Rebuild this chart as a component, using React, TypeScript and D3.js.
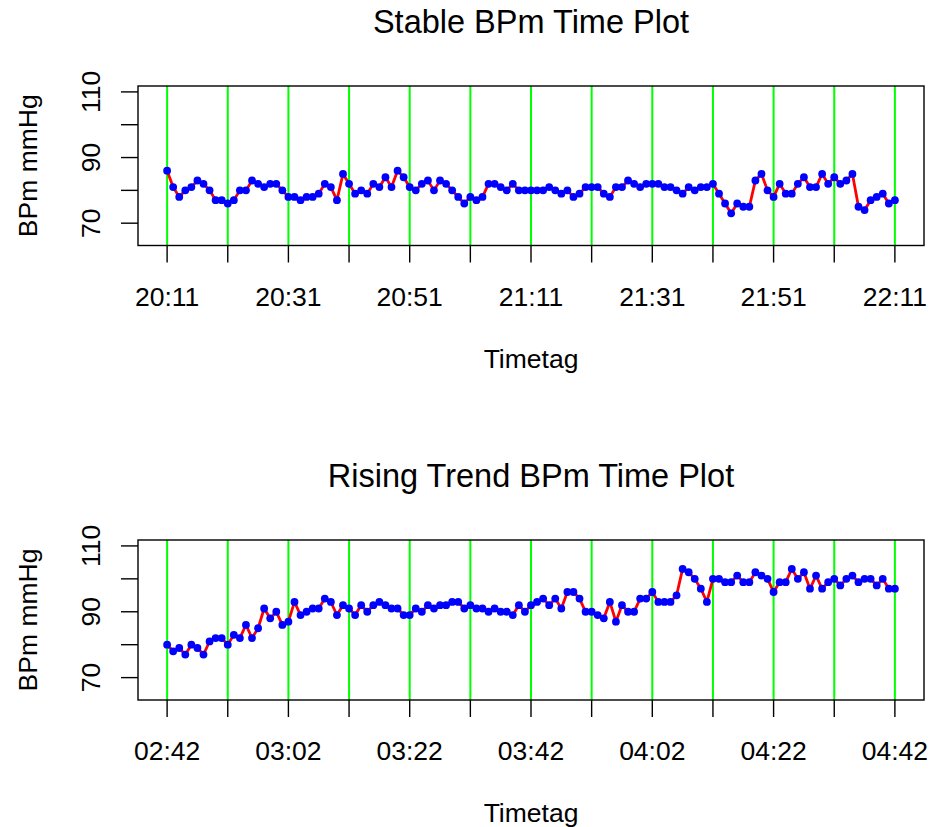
import React from "react";
import * as d3 from "d3";

// Blood pressure readings, one per minute over two hours
const stableStart = "20:11";
const stableValues = [
  86, 81, 78, 80, 81, 83, 82, 80, 77, 77,
  76, 77, 80, 80, 83, 82, 81, 82, 82, 80,
  78, 78, 77, 78, 78, 79, 82, 81, 77, 85,
  82, 79, 80, 79, 82, 81, 84, 81, 86, 84,
  81, 80, 82, 83, 80, 83, 82, 80, 78, 76,
  78, 77, 78, 82, 82, 81, 80, 82, 80, 80,
  80, 80, 80, 81, 80, 79, 80, 78, 79, 81,
  81, 81, 79, 78, 81, 81, 83, 82, 81, 82,
  82, 82, 81, 81, 80, 79, 81, 80, 81, 81,
  82, 79, 76, 73, 76, 75, 75, 83, 85, 80,
  78, 82, 79, 79, 82, 84, 81, 81, 85, 82,
  84, 82, 83, 85, 75, 74, 77, 78, 79, 76, 77,
];

const risingStart = "02:42";
const risingValues = [
  80, 78, 79, 77, 80, 79, 77, 81, 82, 82,
  80, 83, 82, 86, 82, 85, 91, 88, 90, 86,
  87, 93, 89, 90, 91, 91, 94, 93, 89, 92,
  91, 89, 92, 90, 92, 93, 92, 91, 91, 89,
  89, 91, 90, 92, 91, 92, 92, 93, 93, 91,
  92, 91, 91, 90, 91, 90, 90, 89, 92, 90,
  92, 93, 94, 92, 94, 91, 96, 96, 94, 90,
  90, 89, 88, 93, 87, 92, 90, 90, 94, 94,
  96, 93, 93, 93, 95, 103, 102, 100, 97, 93,
  100, 100, 99, 99, 101, 99, 99, 102, 101, 100,
  96, 99, 99, 103, 100, 102, 97, 101, 97, 99,
  100, 98, 100, 101, 99, 100, 100, 98, 100, 97, 97,
];

const yTicks = [70, 80, 90, 100, 110];
const yLabelTicks = [70, 90, 110];
const yLimits = [65, 110];
const gridStepMinutes = 10;
const labelStepMinutes = 20;

const FONT = "'Liberation Sans', Arial, Helvetica, sans-serif";

function parseClock(s: string): Date {
  const [h, m] = s.split(":").map(Number);
  return new Date(2020, 0, 1, h, m, 0);
}

type PanelProps = {
  title: string;
  start: string;
  values: number[];
  top: number;
  bottom: number;
};

function Panel({ title, start, values, top, bottom }: PanelProps) {
  const left = 138;
  const right = 924;
  const t0 = parseClock(start);
  const times = values.map((_, i) => d3.timeMinute.offset(t0, i));
  const t1 = times[times.length - 1];
  const span = (t1.getTime() - t0.getTime()) * 0.04;
  const x = d3
    .scaleTime()
    .domain([new Date(t0.getTime() - span), new Date(t1.getTime() + span)])
    .range([left, right]);
  const yPad = (yLimits[1] - yLimits[0]) * 0.04;
  const y = d3
    .scaleLinear()
    .domain([yLimits[0] - yPad, yLimits[1] + yPad])
    .range([bottom, top]);

  // vertical reference lines and ticks every ten minutes
  const gridTimes = d3
    .range(0, values.length, gridStepMinutes)
    .map((m) => d3.timeMinute.offset(t0, m));
  const fmt = d3.timeFormat("%H:%M");
  const line = d3
    .line<number>()
    .x((_, i) => x(times[i]))
    .y((d) => y(d));
  const cx = (left + right) / 2;
  const cy = (top + bottom) / 2;

  return (
    <g fontFamily={FONT} fill="#000">
      <text x={cx} y={top - 53} fontSize={32.5} textAnchor="middle">
        {title}
      </text>
      {gridTimes.map((t, i) => (
        <line
          key={"g" + i}
          x1={x(t)}
          x2={x(t)}
          y1={top}
          y2={bottom}
          stroke="#00ff00"
          strokeWidth={2}
        />
      ))}
      <path d={line(values) ?? ""} fill="none" stroke="#ff0000" strokeWidth={2.8} />
      {values.map((v, i) => (
        <circle key={"p" + i} cx={x(times[i])} cy={y(v)} r={3.9} fill="#0000ff" />
      ))}
      <rect
        x={left}
        y={top}
        width={right - left}
        height={bottom - top}
        fill="none"
        stroke="#000"
        strokeWidth={1.4}
      />
      {/* x axis */}
      {gridTimes.map((t, i) => (
        <g key={"xt" + i}>
          <line x1={x(t)} x2={x(t)} y1={bottom} y2={bottom + 17} stroke="#000" strokeWidth={1.4} />
          {(i * gridStepMinutes) % labelStepMinutes === 0 && (
            <text x={x(t)} y={bottom + 60} fontSize={26.5} textAnchor="middle">
              {fmt(t)}
            </text>
          )}
        </g>
      ))}
      <text x={cx} y={bottom + 122} fontSize={26.5} textAnchor="middle">
        Timetag
      </text>
      {/* y axis */}
      {yTicks.map((v) => (
        <line key={"yt" + v} x1={left - 17} x2={left} y1={y(v)} y2={y(v)} stroke="#000" strokeWidth={1.4} />
      ))}
      {yLabelTicks.map((v) => (
        <text
          key={"yl" + v}
          transform={`translate(${left - 38},${y(v)}) rotate(-90)`}
          fontSize={26.5}
          textAnchor="middle"
        >
          {v}
        </text>
      ))}
      <text transform={`translate(37,${cy}) rotate(-90)`} fontSize={26.5} textAnchor="middle">
        BPm mmHg
      </text>
    </g>
  );
}

export default function App() {
  return (
    <svg width={930} height={827} style={{ display: "block", position: "absolute", left: 0, top: 0 }}>
      <rect width={930} height={827} fill="#fff" />
      <Panel title="Stable BPm Time Plot" start={stableStart} values={stableValues} top={86} bottom={245.5} />
      <Panel title="Rising Trend BPm Time Plot" start={risingStart} values={risingValues} top={540} bottom={700} />
    </svg>
  );
}
